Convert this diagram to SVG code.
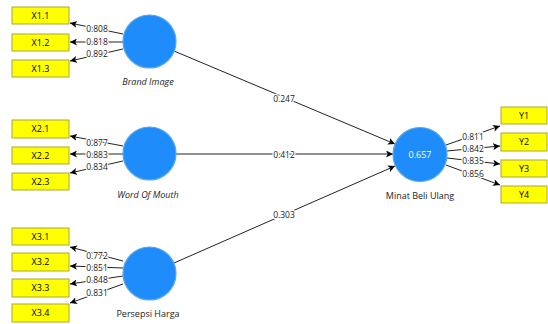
<svg xmlns="http://www.w3.org/2000/svg" width="548" height="324" viewBox="0 0 548 324">
<style>
.box{fill:#ffff00;stroke:#a8a838;stroke-width:1}
.lv{fill:#1e8cfa;stroke:#5aa6e6;stroke-width:1.2}
.bt{font-family:"Open Sans","Liberation Sans",sans-serif;font-size:9px;fill:#000;text-anchor:middle}
.lt{font-family:"Open Sans","Liberation Sans",sans-serif;font-size:9px;fill:#222;text-anchor:middle}
.it{font-style:italic}
.num{font-family:"Open Sans","Liberation Sans",sans-serif;font-size:8.5px;fill:#222;text-anchor:middle;paint-order:stroke;stroke:#fff;stroke-width:2.5px;stroke-linejoin:round}
.ln{stroke:#222;stroke-width:1;fill:none;marker-end:url(#ah)}
</style>
<defs>
<marker id="ah" viewBox="0 0 10 10" refX="10" refY="5" markerWidth="7" markerHeight="7" markerUnits="userSpaceOnUse" orient="auto">
<path d="M0,0 L10,5 L0,10 L2.5,5 z" fill="#000"/>
</marker>
</defs>
<rect width="548" height="324" fill="#fff"/>
<g id="connectors">
<line class="ln" x1="123" y1="34" x2="70" y2="23"/>
<line class="ln" x1="123" y1="42" x2="70" y2="42"/>
<line class="ln" x1="123" y1="49" x2="70" y2="61"/>
<line class="ln" x1="123" y1="146" x2="70" y2="136"/>
<line class="ln" x1="123" y1="154" x2="70" y2="154"/>
<line class="ln" x1="123" y1="161" x2="70" y2="173"/>
<line class="ln" x1="123" y1="261" x2="70" y2="247"/>
<line class="ln" x1="123" y1="268" x2="70" y2="266"/>
<line class="ln" x1="123" y1="276" x2="70" y2="284"/>
<line class="ln" x1="123" y1="284" x2="70" y2="303"/>
<line class="ln" x1="446" y1="145" x2="500" y2="126"/>
<line class="ln" x1="447" y1="151" x2="500" y2="146"/>
<line class="ln" x1="447" y1="158" x2="500" y2="164"/>
<line class="ln" x1="446" y1="165" x2="500" y2="185"/>
<line class="ln" x1="174" y1="51" x2="395" y2="144"/>
<line class="ln" x1="176" y1="154" x2="393" y2="154"/>
<line class="ln" x1="174" y1="263" x2="395" y2="166"/>
<text class="num" x="97" y="32">0.808</text>
<text class="num" x="97" y="45">0.818</text>
<text class="num" x="97" y="57">0.892</text>
<text class="num" x="97" y="146">0.877</text>
<text class="num" x="97" y="157.5">0.883</text>
<text class="num" x="97" y="170">0.834</text>
<text class="num" x="97" y="259">0.772</text>
<text class="num" x="97" y="271">0.851</text>
<text class="num" x="97" y="282.5">0.848</text>
<text class="num" x="97" y="296">0.831</text>
<text class="num" x="473" y="140">0.811</text>
<text class="num" x="473" y="152">0.842</text>
<text class="num" x="473" y="164">0.835</text>
<text class="num" x="473" y="177">0.856</text>
<text class="num" x="284" y="102">0.247</text>
<text class="num" x="284" y="158">0.412</text>
<text class="num" x="284" y="218">0.303</text>
</g>
<g id="X1.1"><rect class="box" x="12" y="7" width="57" height="17"/><text class="bt" x="40.5" y="19">X1.1</text></g>
<g id="X1.2"><rect class="box" x="12" y="34" width="57" height="17"/><text class="bt" x="40.5" y="46">X1.2</text></g>
<g id="X1.3"><rect class="box" x="12" y="60" width="57" height="17"/><text class="bt" x="40.5" y="72">X1.3</text></g>
<g id="X2.1"><rect class="box" x="12" y="120" width="57" height="18"/><text class="bt" x="40.5" y="132">X2.1</text></g>
<g id="X2.2"><rect class="box" x="12" y="147" width="57" height="17"/><text class="bt" x="40.5" y="159">X2.2</text></g>
<g id="X2.3"><rect class="box" x="12" y="173" width="57" height="17"/><text class="bt" x="40.5" y="185">X2.3</text></g>
<g id="X3.1"><rect class="box" x="12" y="228" width="57" height="17"/><text class="bt" x="40.5" y="240">X3.1</text></g>
<g id="X3.2"><rect class="box" x="12" y="253" width="57" height="18"/><text class="bt" x="40.5" y="265">X3.2</text></g>
<g id="X3.3"><rect class="box" x="12" y="279" width="57" height="18"/><text class="bt" x="40.5" y="291">X3.3</text></g>
<g id="X3.4"><rect class="box" x="12" y="304" width="57" height="18"/><text class="bt" x="40.5" y="316">X3.4</text></g>
<g id="Y1"><rect class="box" x="501" y="107" width="46" height="17"/><text class="bt" x="524" y="119">Y1</text></g>
<g id="Y2"><rect class="box" x="501" y="133" width="46" height="18"/><text class="bt" x="524" y="145">Y2</text></g>
<g id="Y3"><rect class="box" x="501" y="160" width="46" height="17"/><text class="bt" x="524" y="172">Y3</text></g>
<g id="Y4"><rect class="box" x="501" y="186" width="46" height="17"/><text class="bt" x="524" y="198">Y4</text></g>
<g id="BrandImage"><circle class="lv" cx="149.5" cy="41.5" r="26.5"/><text class="lt it" x="148" y="85">Brand Image</text></g>
<g id="WordOfMouth"><circle class="lv" cx="149.5" cy="153.5" r="26.5"/><text class="lt it" x="148" y="198">Word Of Mouth</text></g>
<g id="PersepsiHarga"><circle class="lv" cx="149.5" cy="273.5" r="26.5"/><text class="lt" x="148" y="317">Persepsi Harga</text></g>
<g id="MinatBeliUlang"><circle class="lv" cx="420" cy="154.5" r="27"/><text class="lt" x="420" y="158" style="fill:#fff">0.657</text><text class="lt" x="420" y="199">Minat Beli Ulang</text></g>
</svg>
